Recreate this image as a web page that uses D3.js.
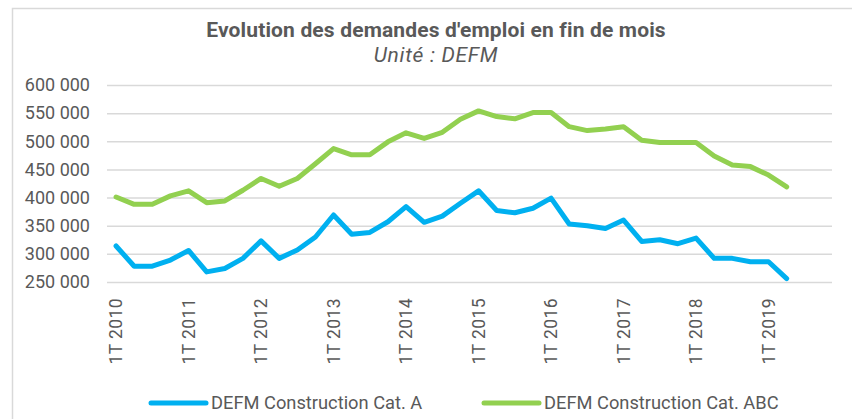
<!DOCTYPE html>
<html>
<head>
<meta charset="utf-8">
<script src="https://cdn.jsdelivr.net/npm/d3@7"></script>
<style>
  html, body { margin: 0; padding: 0; background: #fff; }
  svg { display: block; font-family: Roboto, "Noto Sans", sans-serif; }
</style>
</head>
<body>
<svg id="chart" width="852" height="419"></svg>
<script>
// Quarterly job-seeker counts (DEFM), construction sector, 1T 2010 – 2T 2019
const years = [2010, 2011, 2012, 2013, 2014, 2015, 2016, 2017, 2018, 2019];
const quarters = ["1T", "2T", "3T", "4T"];
const tickLabels = years.map(y => "1T " + y);

const seriesA = [
  314000, 278000, 278000, 289000, 306000, 268000, 274000, 292000,
  323000, 292000, 307000, 330000, 369000, 335000, 338000, 357000,
  384000, 356000, 367000, 390000, 412000, 377000, 373000, 381000,
  399000, 353000, 350000, 345000, 360000, 322000, 325000, 318000,
  328000, 292000, 292000, 286000, 286000, 256000
];
const seriesABC = [
  401000, 388000, 388000, 403000, 412000, 391000, 394000, 413000,
  434000, 420000, 434000, 460000, 487000, 476000, 476000, 499000,
  515000, 505000, 516000, 539000, 554000, 544000, 540000, 551000,
  551000, 526000, 519000, 522000, 526000, 502000, 498000, 498000,
  498000, 474000, 458000, 455000, 440000, 419000
];
const seriesNames = ["DEFM Construction Cat. A", "DEFM Construction Cat. ABC"];
const seriesColors = ["#00b0f0", "#92d050"];
const yTicks = [250000, 300000, 350000, 400000, 450000, 500000, 550000, 600000];

// Category axis covers all quarters of 2010–2019
const categories = [];
years.forEach(y => quarters.forEach(q => categories.push(q + " " + y)));

const svg = d3.select("#chart");
const W = 852, H = 419;
const plot = { left: 107, right: 832, top: 85, bottom: 282 };

// Outer frame
svg.append("rect")
  .attr("x", 12.5).attr("y", 8.5)
  .attr("width", W).attr("height", H)
  .attr("fill", "none").attr("stroke", "#d9d9d9").attr("stroke-width", 1.5);

// Titles
svg.append("text")
  .attr("x", 436).attr("y", 37)
  .attr("text-anchor", "middle")
  .attr("font-size", 21).attr("font-weight", "bold")
  .attr("letter-spacing", "0.15px")
  .attr("fill", "#595959")
  .text("Evolution des demandes d'emploi en fin de mois");
svg.append("text")
  .attr("x", 436).attr("y", 62)
  .attr("text-anchor", "middle")
  .attr("font-size", 21).attr("font-style", "italic")
  .attr("letter-spacing", "0.7px")
  .attr("fill", "#595959")
  .text("Unité : DEFM");

const x = d3.scaleBand().domain(categories).range([plot.left, plot.right]);
const y = d3.scaleLinear().domain([250000, 600000]).range([plot.bottom, plot.top]);

const fr = d3.formatLocale({ decimal: ",", thousands: " ", grouping: [3], currency: ["", " €"] });
const fmt = fr.format(",d");

// Y axis: gridlines and labels
const yAxis = svg.append("g")
  .attr("transform", `translate(${plot.left},0)`)
  .call(d3.axisLeft(y).tickValues(yTicks).tickFormat(fmt)
    .tickSize(-(plot.right - plot.left)).tickPadding(17));
yAxis.select(".domain").remove();
yAxis.selectAll(".tick line").attr("stroke", "#d9d9d9").attr("stroke-width", 1.5);
yAxis.selectAll(".tick text")
  .attr("fill", "#595959").attr("font-size", 18)
  .attr("font-family", "Roboto, sans-serif");

// X axis: yearly labels, rotated
const xAxis = svg.append("g")
  .attr("transform", `translate(0,${plot.bottom})`)
  .call(d3.axisBottom(x)
    .tickValues(tickLabels)
    .tickSize(0).tickPadding(0));
xAxis.select(".domain").remove();
xAxis.selectAll(".tick text")
  .attr("fill", "#595959").attr("font-size", 17.5)
  .attr("font-family", "Roboto, sans-serif")
  .attr("letter-spacing", "0.4px")
  .attr("text-anchor", "end")
  .attr("transform", "rotate(-90)")
  .attr("x", -16).attr("y", 0).attr("dy", "0.35em");

// Lines
const cx = i => x(categories[i]) + x.bandwidth() / 2;
const line = d3.line().x((d, i) => cx(i)).y(d => y(d));
[seriesA, seriesABC].forEach((s, k) => {
  svg.append("path")
    .datum(s)
    .attr("d", line)
    .attr("fill", "none")
    .attr("stroke", seriesColors[k])
    .attr("stroke-width", 5)
    .attr("stroke-linejoin", "round")
    .attr("stroke-linecap", "round");
});

// Legend
const legendPos = [151, 484];
seriesNames.forEach((name, k) => {
  const g = svg.append("g").attr("transform", `translate(${legendPos[k]},403)`);
  g.append("line")
    .attr("x1", 0).attr("x2", 55)
    .attr("stroke", seriesColors[k]).attr("stroke-width", 5)
    .attr("stroke-linecap", "round");
  g.append("text")
    .attr("x", 60).attr("y", 0).attr("dy", "0.35em")
    .attr("font-size", 18.3).attr("fill", "#595959")
    .text(name);
});
</script>
</body>
</html>
